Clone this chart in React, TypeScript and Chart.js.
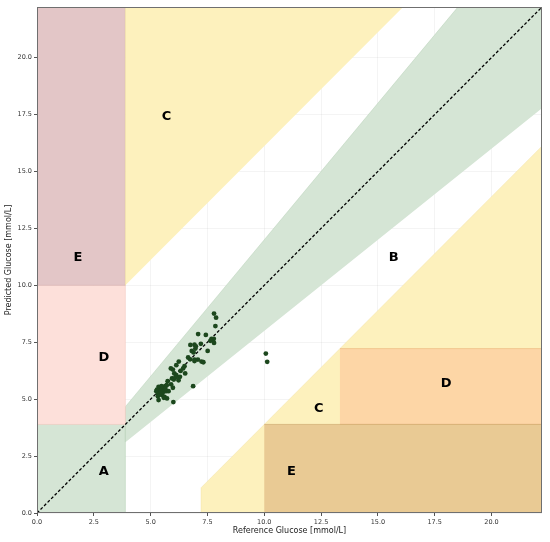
import React, { useEffect, useRef } from "react";
import { Chart, registerables } from "chart.js";

Chart.register(...registerables);

// ---- axis ----
const AXIS_MIN = 0;
const AXIS_MAX = 400 / 18; // 22.22 mmol/L
const TICK_STEP = 2.5;
const X_TITLE = "Reference Glucose [mmol/L]";
const Y_TITLE = "Predicted Glucose [mmol/L]";

// ---- measurements (reference, predicted) ----
const refGlucose = [
  7.79, 7.88, 7.85, 7.09, 7.43, 7.68, 7.78, 7.73, 7.63, 7.79,
  6.75, 6.93, 6.99, 7.21, 7.51, 6.97, 6.81, 6.89, 6.65, 6.74,
  6.93, 7.08, 7.24, 7.32, 6.93,
  6.24, 6.13, 6.49, 5.89, 5.98, 6.43, 6.32, 6.04, 6.13, 6.52,
  6.29, 5.94, 6.02, 6.23, 5.75, 6.87, 5.64, 5.71, 5.98,
  5.35, 5.48, 5.54, 5.42, 5.25, 5.32, 5.57, 5.69, 5.79, 5.51,
  5.61, 5.32, 5.39, 5.72, 5.35, 5.58, 6.0, 5.28, 5.45, 5.65,
  5.9, 6.1,
  10.07, 10.13,
];
const predGlucose = [
  8.76, 8.58, 8.21, 7.86, 7.82, 7.65, 7.65, 7.59, 7.56, 7.47,
  7.38, 7.39, 7.32, 7.43, 7.12, 7.22, 7.12, 7.05, 6.83, 6.75,
  6.74, 6.74, 6.65, 6.62, 6.67,
  6.65, 6.49, 6.45, 6.35, 6.3, 6.35, 6.24, 6.13, 6.05, 6.13,
  5.98, 5.91, 5.86, 5.83, 5.79, 5.57, 5.57, 5.61, 5.5,
  5.54, 5.57, 5.47, 5.39, 5.35, 5.25, 5.32, 5.35, 5.35, 5.18,
  5.1, 5.13, 5.2, 5.03, 4.96, 5.06, 4.87, 5.42, 5.3, 5.45,
  5.65, 5.95,
  7.0, 6.64,
];

// ---- Clarke zones (mmol/L polygon vertices [x, y]) ----
const zoneA_low = [[0, 0], [3.89, 0], [3.89, 3.89], [0, 3.89]];
const zoneA_band = [[3.89, 3.11], [3.89, 4.67], [18.52, 22.22], [22.22, 22.22], [22.22, 17.78]];
const zoneC_upper = [[3.89, 10], [3.89, 22.22], [16.11, 22.22]];
const zoneC_lower = [[7.22, 0], [7.22, 1.11], [22.22, 16.11], [22.22, 0]];
const zoneD_left = [[0, 3.89], [3.89, 3.89], [3.89, 10], [0, 10]];
const zoneD_right = [[13.33, 3.89], [22.22, 3.89], [22.22, 7.22], [13.33, 7.22]];
const zoneE_left = [[0, 10], [3.89, 10], [3.89, 22.22], [0, 22.22]];
const zoneE_right = [[10, 0], [22.22, 0], [22.22, 3.89], [10, 3.89]];

// ---- zone labels ----
const zoneLabelText = ["A", "B", "C", "C", "D", "D", "E", "E"];
const zoneLabelX = [2.94, 15.7, 5.7, 12.4, 2.94, 18.0, 1.8, 11.2];
const zoneLabelY = [1.8, 11.2, 17.4, 4.6, 6.84, 5.7, 11.2, 1.8];

const toPts = (poly: number[][]) => poly.map(([x, y]) => ({ x, y }));

const zoneDataset = (poly: number[][], fill: string, edge: string) => ({
  type: "line" as const,
  data: toPts(poly),
  showLine: true,
  fill: "shape",
  backgroundColor: fill,
  borderColor: edge,
  borderWidth: 0.8,
  pointRadius: 0,
  pointHoverRadius: 0,
  tension: 0,
});

const overlayPlugin = {
  id: "overlay",
  afterDraw(chart: any) {
    const { ctx, chartArea, scales } = chart;
    const xs = scales.x;
    const ys = scales.y;
    ctx.save();
    ctx.font = 'bold 13px "DejaVu Sans"';
    ctx.fillStyle = "#000";
    ctx.textAlign = "center";
    ctx.textBaseline = "middle";
    zoneLabelText.forEach((t, i) => {
      ctx.fillText(t, xs.getPixelForValue(zoneLabelX[i]), ys.getPixelForValue(zoneLabelY[i]));
    });
    ctx.strokeStyle = "#6f6f6f";
    ctx.lineWidth = 1;
    ctx.strokeRect(
      Math.round(chartArea.left) + 0.5,
      Math.round(chartArea.top) + 0.5,
      Math.round(chartArea.right - chartArea.left) - 1,
      Math.round(chartArea.bottom - chartArea.top) - 1
    );
    ctx.restore();
  },
};

export default function App() {
  const canvasRef = useRef<HTMLCanvasElement | null>(null);

  useEffect(() => {
    if (!canvasRef.current) return;
    const tickFont = { family: '"DejaVu Sans"', size: 6.5 };
    const titleFont = { family: '"DejaVu Sans"', size: 8 };
    const axisCommon = (title: string, isY: boolean) => ({
      type: "linear" as const,
      min: AXIS_MIN,
      max: AXIS_MAX,
      z: 1,
      border: { display: false },
      grid: {
        color: "rgba(0,0,0,0.045)",
        lineWidth: 1,
        drawTicks: true,
        tickLength: 3,
        tickColor: "#555",
      },
      ticks: {
        stepSize: TICK_STEP,
        includeBounds: false,
        autoSkip: false,
        maxRotation: 0,
        padding: 2,
        color: "#333",
        font: tickFont,
        callback: (v: any) => Number(v).toFixed(1),
      },
      title: {
        display: true,
        text: title,
        color: "#222",
        font: titleFont,
        padding: isY ? { top: 4, bottom: 0 } : { top: 0, bottom: 6 },
      },
      afterFit: (scale: any) => {
        if (isY) scale.width = 37;
        else scale.height = 29;
      },
    });

    const chart = new Chart(canvasRef.current, {
      type: "scatter",
      data: {
        datasets: [
          {
            type: "scatter",
            data: refGlucose.map((x, i) => ({ x, y: predGlucose[i] })),
            backgroundColor: "#1c471d",
            borderWidth: 0,
            pointRadius: 2.4,
          } as any,
          {
            type: "line",
            data: [{ x: AXIS_MIN, y: AXIS_MIN }, { x: AXIS_MAX, y: AXIS_MAX }],
            showLine: true,
            borderColor: "#000",
            borderWidth: 1.3,
            borderDash: [3, 2],
            pointRadius: 0,
            fill: false,
          } as any,
          zoneDataset(zoneE_right, "#e9ca94", "rgba(200,160,100,0.7)"),
          zoneDataset(zoneD_right, "#fdd6a6", "rgba(230,170,110,0.6)"),
          zoneDataset(zoneC_lower, "#fdf1bd", "rgba(240,220,150,0.5)"),
          zoneDataset(zoneC_upper, "#fdf1bd", "rgba(240,220,150,0.5)"),
          zoneDataset(zoneE_left, "#e3c6c7", "rgba(200,160,160,0.5)"),
          zoneDataset(zoneD_left, "#fde0da", "rgba(240,190,180,0.5)"),
          zoneDataset(zoneA_band, "#d5e5d5", "rgba(170,200,170,0.5)"),
          zoneDataset(zoneA_low, "#d5e5d5", "rgba(170,200,170,0.5)"),
        ] as any,
      },
      options: {
        responsive: false,
        animation: false,
        events: [],
        layout: { padding: { top: 7, right: 8, left: 0, bottom: 0 } },
        plugins: {
          legend: { display: false },
          tooltip: { enabled: false },
        },
        scales: {
          x: axisCommon(X_TITLE, false),
          y: axisCommon(Y_TITLE, true),
        } as any,
      },
      plugins: [overlayPlugin],
    });
    return () => chart.destroy();
  }, []);

  return (
    <div style={{ position: "absolute", left: 0, top: 0, width: 550, height: 542, background: "#fff" }}>
      <canvas ref={canvasRef} width={550} height={542} />
    </div>
  );
}
